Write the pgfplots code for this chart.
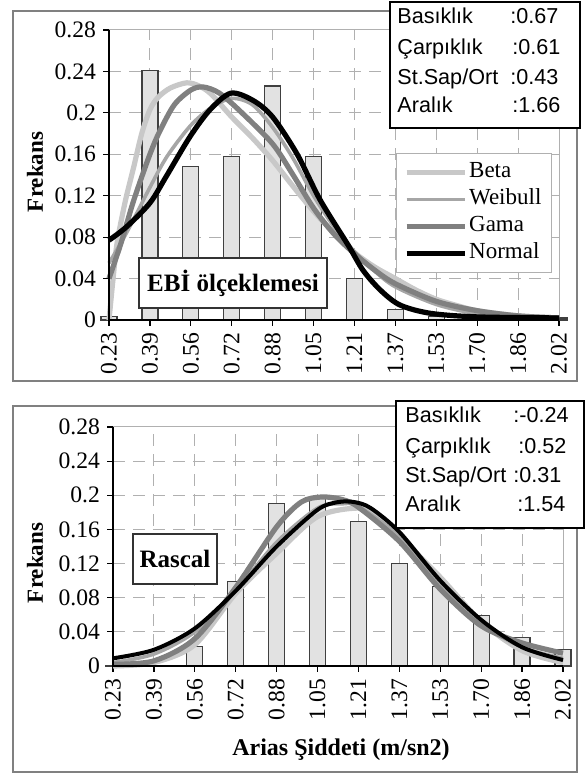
\documentclass[border=0pt]{standalone}
\usepackage{fontspec}
\setmainfont{Liberation Serif}
\newfontfamily\arial{Liberation Sans}
\usepackage{pgfplots}
\pgfplotsset{compat=1.18}

\definecolor{cbeta}{RGB}{200,200,200}
\definecolor{cweib}{RGB}{166,166,166}
\definecolor{cgama}{RGB}{128,128,128}
\definecolor{cgrid}{RGB}{176,176,176}
\definecolor{cbar}{RGB}{226,226,226}
\definecolor{cframe}{RGB}{128,128,128}

\pgfplotsset{
  panel/.style={
    scale only axis, width=225pt,
    xmin=0, xmax=11, ymin=0, ymax=0.28,
    clip=false,
    axis line style={draw=cgrid, line width=0.5pt},
    xtick={0,...,11},
    xticklabels={0.23,0.39,0.56,0.72,0.88,1.05,1.21,1.37,1.53,1.70,1.86,2.02},
    ytick={0,0.04,0.08,0.12,0.16,0.2,0.24,0.28},
    yticklabels={0,0.04,0.08,0.12,0.16,0.2,0.24,0.28},
    xtick pos=bottom, ytick pos=left,
    tick align=outside, major tick length=3pt,
    tick style={black, line width=0.6pt},
    ticklabel style={font=\fontsize{11.8}{12}\selectfont},
    xticklabel style={rotate=90, anchor=east},
    xmajorgrids, ymajorgrids,
    major grid style={cgrid, line width=0.5pt, dash pattern=on 6pt off 4pt},
  },
  barstyle/.style={ybar, bar width=8pt, fill=cbar, draw=black!75, line width=0.6pt, forget plot},
}

\begin{document}
\begin{tikzpicture}
\path[use as bounding box] (0,0) rectangle (292.5pt,387pt);
\fill[white] (0,0) rectangle (292.5pt,387pt);

% panel frames
\draw[cframe, line width=0.8pt] (6.5pt,196.5pt) rectangle (288.5pt,381.5pt);
\draw[cframe, line width=0.8pt] (6.5pt,1pt) rectangle (288.5pt,184pt);

% top panel: EBI scaling
\begin{axis}[panel, height=145pt,
  at={(54.5pt,227pt)}, anchor=south west,
  legend style={at={(0.984,0.576)}, anchor=north east, draw=cgrid, fill=white,
    font=\fontsize{11.5}{12}\selectfont, inner xsep=4pt, inner ysep=3.5pt, row sep=1.5pt,
    nodes={inner sep=1pt, text height=7.5pt, text depth=2.5pt}},
  legend cell align=left,
  legend image code/.code={\draw[#1] (0pt,0pt) -- (29pt,0pt);},
]
\addplot[barstyle] coordinates {
  (0,0.003) (1,0.241) (2,0.148) (3,0.158) (4,0.226) (5,0.158)
  (6,0.040) (7,0.010) (8,0.003) (9,0) (10,0) (11,0.002)};

\addplot[cbeta, line width=2.6pt, smooth, no markers] coordinates {
  (0,0) (0.1,0.04) (0.2,0.075) (0.4,0.115) (0.6,0.147) (0.8,0.18) (1.0,0.203)
  (1.2,0.215) (1.5,0.224) (1.9,0.229) (2.2,0.226) (2.5,0.218) (3.0,0.196)
  (3.5,0.176) (4.0,0.154) (4.5,0.129) (5.0,0.105) (5.5,0.084) (6.0,0.065)
  (6.5,0.051) (7.0,0.040) (7.5,0.029) (8,0.020) (8.5,0.014) (9,0.009)
  (10,0.004) (11,0.002)};
\addlegendentry{Beta}

\addplot[cweib, line width=1.8pt, smooth, no markers] coordinates {
  (0,0.055) (0.3,0.075) (0.6,0.097) (1.0,0.128) (1.42,0.158) (2.0,0.188)
  (2.5,0.205) (3.0,0.214) (3.5,0.208) (4.0,0.186) (4.5,0.156) (5.0,0.120)
  (5.5,0.090) (6,0.066) (6.5,0.047) (7,0.032) (8,0.015) (9,0.006)
  (10,0.003) (11,0.002)};
\addlegendentry{Weibull}

\addplot[cgama, line width=2.6pt, smooth, no markers] coordinates {
  (0,0.040) (0.3,0.075) (0.6,0.115) (1.0,0.160) (1.25,0.183) (1.6,0.208)
  (2.0,0.222) (2.3,0.225) (2.7,0.219) (3.25,0.200) (4.0,0.170) (4.5,0.140)
  (5.0,0.108) (5.5,0.083) (6,0.064) (6.5,0.048) (7,0.035) (8,0.018)
  (9,0.009) (10,0.004) (11,0.002)};
\addlegendentry{Gama}

\addplot[black, line width=2.6pt, smooth, no markers] coordinates {
  (0,0.077) (0.43,0.090) (1.0,0.113) (1.39,0.138) (1.98,0.177) (2.47,0.203)
  (2.98,0.219) (3.52,0.212) (4.0,0.196) (4.6,0.160) (5.16,0.116) (5.85,0.072)
  (6.21,0.048) (6.63,0.029) (7.11,0.0145) (7.85,0.0065) (9,0.003) (11,0.002)};
\addlegendentry{Normal}

\draw[black, line width=0.8pt] (rel axis cs:0,1) -- (rel axis cs:0,0) -- (rel axis cs:1,0);
\end{axis}

% bottom panel: Rascal
\begin{axis}[panel, height=119.5pt,
  at={(56.5pt,54pt)}, anchor=south west,
]
\addplot[barstyle] coordinates {
  (0,0) (1,0) (2,0.023) (3,0.099) (4,0.190) (5,0.196)
  (6,0.169) (7,0.120) (8,0.093) (9,0.059) (10,0.033) (11,0.019)};

\addplot[cbeta, line width=2.6pt, smooth, no markers] coordinates {
  (0,0.0) (1,0.004) (2,0.025) (3,0.085) (4,0.132) (5,0.175) (6,0.185)
  (6.5,0.175) (7,0.152) (8,0.104) (9,0.052) (10,0.018) (11,0.004)};
\addplot[cweib, line width=1.8pt, smooth, no markers] coordinates {
  (0,0.004) (1,0.014) (2,0.040) (3,0.088) (4,0.145) (5,0.185) (5.6,0.190)
  (6,0.187) (7,0.152) (8,0.097) (9,0.050) (10,0.022) (11,0.009)};
\addplot[cgama, line width=2.6pt, smooth, no markers] coordinates {
  (0,0.002) (1,0.006) (2,0.032) (3,0.092) (4,0.163) (4.6,0.192) (5.1,0.198)
  (5.6,0.195) (6,0.186) (7,0.146) (8,0.090) (9,0.047) (10,0.027) (11,0.015)};
\addplot[black, line width=2pt, smooth, no markers] coordinates {
  (0,0.009) (1,0.019) (2,0.044) (3,0.088) (4,0.140) (5,0.183) (5.5,0.192)
  (5.9,0.192) (6.3,0.185) (7,0.157) (8,0.100) (9,0.054) (10,0.022) (11,0.007)};

\draw[black, line width=0.8pt] (rel axis cs:0,1) -- (rel axis cs:0,0) -- (rel axis cs:1,0);
\end{axis}

% axis titles
\node[rotate=90, font=\bfseries\fontsize{11.5}{12}\selectfont] at (17.5pt,301pt) {Frekans};
\node[rotate=90, font=\bfseries\fontsize{11.5}{12}\selectfont] at (17.5pt,105.5pt) {Frekans};
\node[font=\bfseries\fontsize{12}{13}\selectfont] at (170.5pt,12pt) {Arias Şiddeti (m/sn2)};

% panel captions
\node[draw=black!80, fill=white, line width=0.6pt, minimum width=94pt, minimum height=25pt,
  font=\bfseries\fontsize{12.5}{13}\selectfont] at (116.5pt,245.5pt) {EBİ ölçeklemesi};
\node[draw=black!80, fill=white, line width=0.6pt, minimum width=42pt, minimum height=25pt,
  font=\bfseries\fontsize{12.5}{13}\selectfont] at (87.5pt,107.5pt) {Rascal};

% statistics boxes
\draw[black, fill=white, line width=0.8pt] (195pt,323pt) rectangle (290pt,386pt);
\begin{scope}[every node/.style={anchor=base west, inner sep=0pt, font=\arial\fontsize{10.8}{12}\selectfont}]
\node at (198.5pt,375pt) {Basıklık};    \node at (255pt,375pt) {:0.67};
\node at (198.5pt,359.5pt) {Çarpıklık}; \node at (256pt,359.5pt) {:0.61};
\node at (198.5pt,344.5pt) {St.Sap/Ort}; \node at (255pt,344.5pt) {:0.43};
\node at (198.5pt,330.5pt) {Aralık};    \node at (256pt,330.5pt) {:1.66};
\end{scope}

\draw[black, fill=white, line width=0.8pt] (198pt,123pt) rectangle (292pt,186.5pt);
\begin{scope}[every node/.style={anchor=base west, inner sep=0pt, font=\arial\fontsize{10.8}{12}\selectfont}]
\node at (202.5pt,175.5pt) {Basıklık};    \node at (256.5pt,175.5pt) {:-0.24};
\node at (202.5pt,160pt) {Çarpıklık};     \node at (259pt,160pt) {:0.52};
\node at (202.5pt,145.5pt) {St.Sap/Ort};  \node at (256.5pt,145.5pt) {:0.31};
\node at (202.5pt,131pt) {Aralık};        \node at (258.5pt,131pt) {:1.54};
\end{scope}
\end{tikzpicture}
\end{document}
